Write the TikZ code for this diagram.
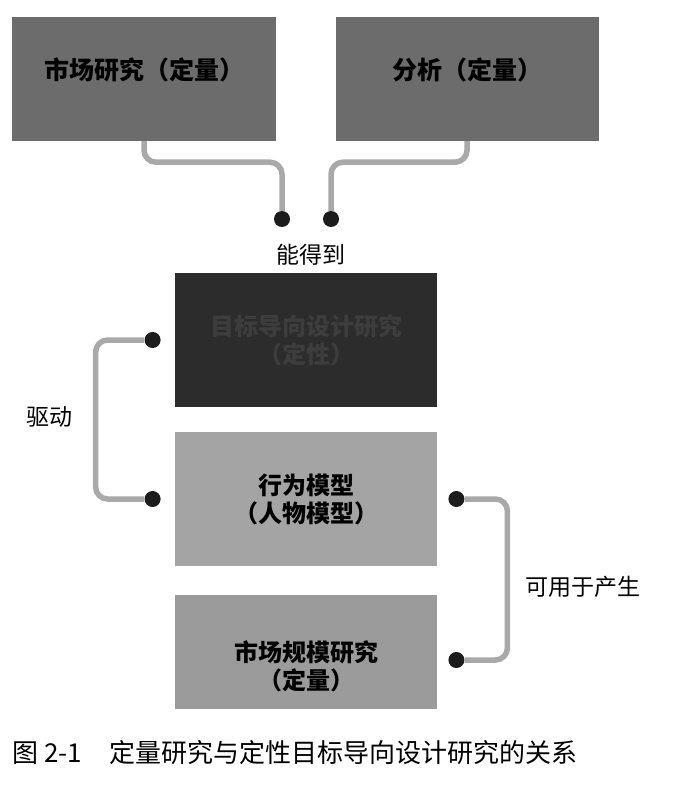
\documentclass[tikz,border=0pt]{standalone}
\usepackage{fontspec}
\newfontfamily\cjk{Noto Sans CJK SC}
\usetikzlibrary{positioning}
\definecolor{boxmid}{HTML}{6C6C6C}
\definecolor{boxdark}{HTML}{2C2C2C}
\definecolor{boxlight}{HTML}{A4A4A4}
\definecolor{boxsize}{HTML}{9B9B9B}
\definecolor{wiregray}{HTML}{A9A9A9}
\definecolor{dotblack}{HTML}{1C1C1C}
\tikzset{
  box/.style={inner sep=0pt,minimum width=262pt,minimum height=134pt,align=center,
    font=\cjk\bfseries\fontsize{24}{28}\selectfont},
  wire/.style={line width=5.5pt,wiregray,rounded corners=12pt},
  dot/.style={circle,fill=dotblack,minimum size=16pt,inner sep=0pt},
  lbl/.style={font=\cjk\fontsize{23}{28}\selectfont}
}
\begin{document}
\begin{tikzpicture}[x=1pt,y=-1pt]
 \useasboundingbox[fill=white] (0,0) rectangle (680,802);
 \node[box,fill=boxmid,minimum width=264pt,minimum height=124pt,text depth=21pt,font=\cjk\bfseries\fontsize{25}{28}\selectfont] (market) at (144,79) {市场研究（定量）};
 \node[box,fill=boxmid,minimum width=263pt,minimum height=124pt,text depth=21pt,font=\cjk\bfseries\fontsize{25}{28}\selectfont] (analysis) at (467,79) {分析（定量）};
 \node[dot] (j1) at (282,219) {};
 \node[dot] (j2) at (331,219) {};
 \draw[wire] (market.south) -- ++(0,21) -| (j1);
 \draw[wire] (analysis.south) -- ++(0,21) -| (j2);
 \node[lbl] (gain) at (311,255) {能得到};
 \node[box,fill=boxdark,text=black!76] (goal) at (306,340) {目标导向设计研究\\（定性）};
 \node[box,fill=boxlight] (behav) at (306,499) {行为模型\\（人物模型）};
 \node[box,fill=boxsize,minimum height=114pt,text height=78pt] (size) at (306,652) {市场规模研究\\（定量）};
 \node[dot,left=14pt of goal] (d1) {};
 \node[dot,left=14pt of behav] (d2) {};
 \draw[wire] (d1) -- ++(-57,0) |- (d2);
 \node[lbl] (drive) at (49,417) {驱动};
 \node[dot,right=11pt of behav] (g1) {};
 \node[dot,right=11pt of size,yshift=-8pt] (g2) {};
 \draw[wire] (g1) -- ++(51,0) |- (g2);
 \node[lbl,anchor=west] (yield) at (522,587) {可用于产生};
 \node[font=\cjk\fontsize{26}{32}\selectfont,anchor=west,inner sep=0pt] (caption) at (12,753) {图~2-1\hspace{28pt}定量研究与定性目标导向设计研究的关系};
\end{tikzpicture}
\end{document}
